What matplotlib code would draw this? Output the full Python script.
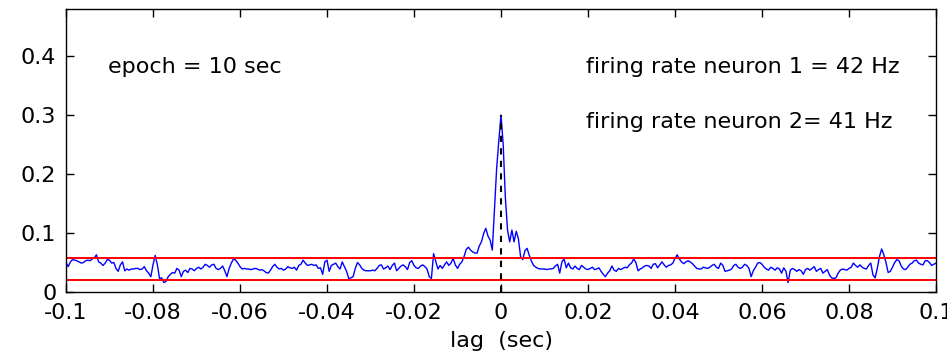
import numpy as np
import matplotlib
matplotlib.use("Agg")
import matplotlib.pyplot as plt

plt.rcParams['axes.unicode_minus'] = False

# cross-correlogram, bins of 0.5 ms
cc_left = [  # lag -0.1 .. -0.05
    0.050, 0.043, 0.051, 0.055, 0.054, 0.053, 0.051, 0.049, 0.050, 0.053,
    0.054, 0.053, 0.056, 0.058, 0.063, 0.051, 0.049, 0.045, 0.049, 0.055,
    0.054, 0.049, 0.050, 0.040, 0.035, 0.046, 0.051, 0.036, 0.039, 0.037,
    0.039, 0.039, 0.040, 0.040, 0.038, 0.039, 0.043, 0.036, 0.032, 0.026,
    0.046, 0.062, 0.046, 0.023, 0.024, 0.016, 0.018, 0.026, 0.030, 0.033,
    0.032, 0.040, 0.037, 0.026, 0.035, 0.037, 0.033, 0.040, 0.039, 0.036,
    0.040, 0.042, 0.039, 0.042, 0.047, 0.045, 0.042, 0.046, 0.047, 0.040,
    0.038, 0.040, 0.044, 0.036, 0.026, 0.040, 0.049, 0.056, 0.054, 0.049,
    0.043, 0.039, 0.040, 0.039, 0.039, 0.038, 0.039, 0.040, 0.039, 0.037,
    0.038, 0.036, 0.033, 0.032, 0.037, 0.043, 0.047, 0.042, 0.039, 0.040,
    0.037]
cc_mid_left = [  # lag -0.0495 .. 0
    0.039, 0.043, 0.041, 0.040, 0.042, 0.037, 0.045, 0.047, 0.054, 0.049,
    0.045, 0.046, 0.047, 0.045, 0.046, 0.040, 0.041, 0.030, 0.051, 0.054,
    0.035, 0.045, 0.047, 0.049, 0.043, 0.039, 0.051, 0.043, 0.035, 0.023,
    0.024, 0.026, 0.040, 0.050, 0.046, 0.040, 0.037, 0.036, 0.036, 0.036,
    0.037, 0.036, 0.040, 0.045, 0.046, 0.039, 0.041, 0.044, 0.038, 0.045,
    0.049, 0.036, 0.040, 0.044, 0.046, 0.043, 0.038, 0.050, 0.053, 0.045,
    0.041, 0.040, 0.044, 0.046, 0.043, 0.039, 0.026, 0.023, 0.065, 0.052,
    0.039, 0.045, 0.040, 0.046, 0.051, 0.045, 0.049, 0.057, 0.046, 0.040,
    0.047, 0.051, 0.060,
    0.072, 0.076, 0.071, 0.068, 0.066, 0.066, 0.078, 0.085, 0.099, 0.108,
    0.095, 0.088, 0.071, 0.140, 0.210, 0.257, 0.300]
cc_mid_right = [  # lag 0.0005 .. 0.05
    0.250, 0.160, 0.105, 0.085, 0.105, 0.085, 0.103, 0.090, 0.060, 0.055,
    0.070, 0.074, 0.062, 0.052,
    0.045, 0.042, 0.040, 0.039, 0.039, 0.039, 0.038, 0.039, 0.039, 0.040,
    0.044, 0.047, 0.032, 0.051, 0.056, 0.041, 0.049, 0.041, 0.039, 0.044,
    0.040, 0.038, 0.045, 0.042, 0.039, 0.038, 0.040, 0.042, 0.038, 0.039,
    0.041, 0.035, 0.030, 0.026, 0.032, 0.036, 0.044, 0.037, 0.035, 0.040,
    0.038, 0.040, 0.042, 0.041, 0.046, 0.049, 0.056, 0.050, 0.036, 0.039,
    0.041, 0.044, 0.045, 0.044, 0.040, 0.047, 0.048, 0.041, 0.046, 0.051,
    0.046, 0.042, 0.045, 0.046, 0.049, 0.057, 0.063, 0.056, 0.051, 0.048,
    0.051, 0.053, 0.051, 0.048, 0.044, 0.040, 0.039, 0.039, 0.042, 0.041,
    0.040, 0.042, 0.045, 0.047, 0.042, 0.040]
cc_right = [  # lag 0.0505 .. 0.1
    0.049, 0.045, 0.035, 0.036, 0.037, 0.039, 0.045, 0.047, 0.042, 0.040,
    0.042, 0.047, 0.045, 0.040, 0.026, 0.036, 0.042, 0.049, 0.050, 0.047,
    0.042, 0.039, 0.037, 0.042, 0.040, 0.037, 0.041, 0.039, 0.032, 0.041,
    0.035, 0.016, 0.037, 0.040, 0.038, 0.035, 0.038, 0.036, 0.030, 0.038,
    0.040, 0.037, 0.040, 0.043, 0.035, 0.038, 0.040, 0.032, 0.035, 0.038,
    0.029, 0.024, 0.023, 0.024, 0.032, 0.037, 0.039, 0.038, 0.037, 0.040,
    0.042, 0.049, 0.045, 0.042, 0.046, 0.042, 0.040, 0.039, 0.045, 0.049,
    0.029, 0.024, 0.040, 0.060, 0.073, 0.063, 0.050, 0.033, 0.035, 0.042,
    0.050, 0.055, 0.053, 0.044, 0.039, 0.038, 0.042, 0.047, 0.049, 0.053,
    0.054, 0.049, 0.047, 0.046, 0.053, 0.053, 0.050, 0.045, 0.047, 0.049]

# significance bounds
upper_bound = 0.058
lower_bound = 0.021

xticks = [-0.1, -0.08, -0.06, -0.04, -0.02, 0, 0.02, 0.04, 0.06, 0.08, 0.1]
xtick_labels = ['-0.1', '-0.08', '-0.06', '-0.04', '-0.02', '0',
                '0.02', '0.04', '0.06', '0.08', '0.1']
yticks = [0, 0.1, 0.2, 0.3, 0.4]
ytick_labels = ['0', '0.1', '0.2', '0.3', '0.4']

cc = np.concatenate([cc_left, cc_mid_left, cc_mid_right, cc_right])
lags = np.linspace(-0.1, 0.1, len(cc))

fig = plt.figure(figsize=(9.47, 3.62), dpi=100)
ax = fig.add_axes((0.0697, 0.1934, 0.9187, 0.7818))

ax.plot(lags, cc, color='#0000ff', linewidth=1.0)
ax.axhline(upper_bound, color='#ff0000', linewidth=1.4)
ax.axhline(lower_bound, color='#ff0000', linewidth=1.4)
ax.plot([0, 0], [0, cc.max()], color='k', linestyle=(0, (3, 3)), linewidth=1.5)

ax.text(-0.0903, 0.382, 'epoch = 10 sec', fontsize=16, va='center')
ax.text(0.0195, 0.382, 'firing rate neuron 1 = 42 Hz', fontsize=16, va='center')
ax.text(0.0195, 0.288, 'firing rate neuron 2= 41 Hz', fontsize=16, va='center')

ax.set_xlim(-0.1, 0.1)
ax.set_ylim(0, 0.48)
ax.set_xticks(xticks)
ax.set_xticklabels(xtick_labels)
ax.set_yticks(yticks)
ax.set_yticklabels(ytick_labels)
ax.tick_params(direction='in', top=True, right=True, length=6, width=1,
               labelsize=16, colors='k')
ax.tick_params(axis='y', pad=7)
ax.tick_params(axis='x', pad=8)
for s in ax.spines.values():
    s.set_linewidth(1.0)
ax.set_xlabel('lag  (sec)', fontsize=16, labelpad=6)

plt.savefig('out.png', dpi=100)
